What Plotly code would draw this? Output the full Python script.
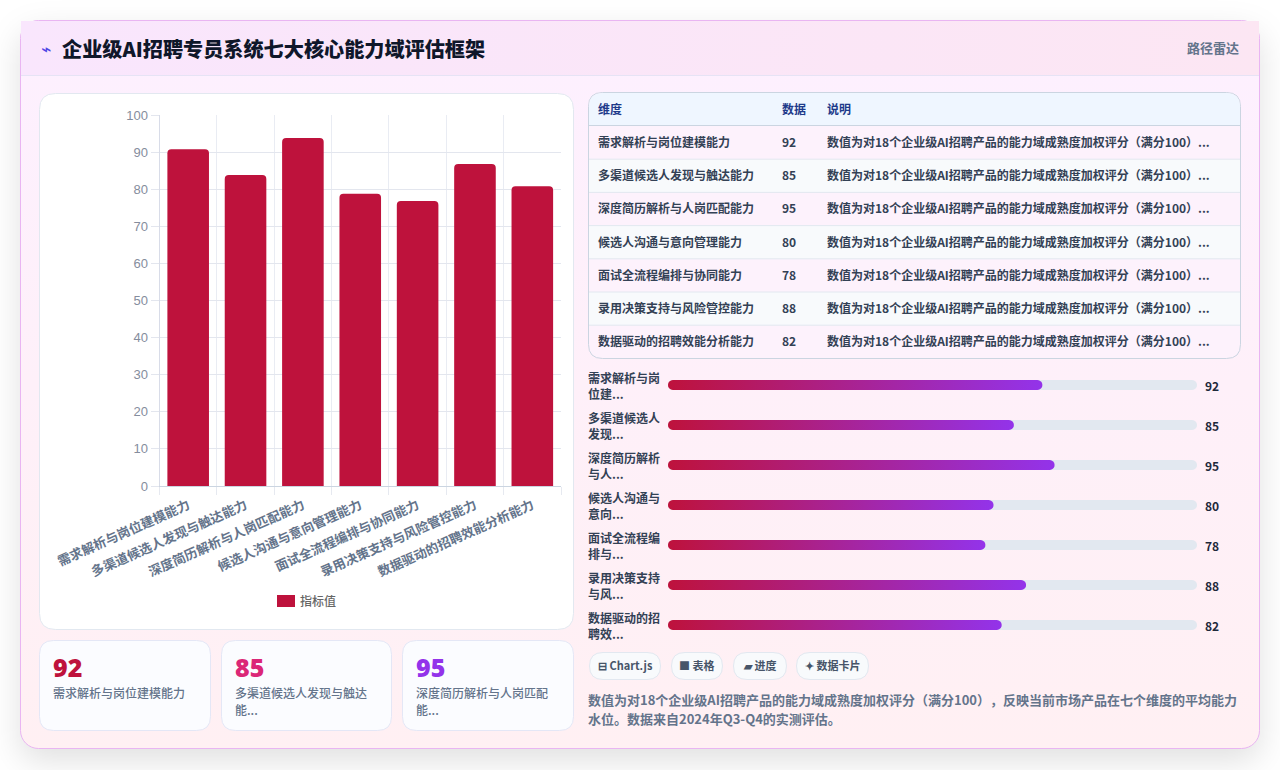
import base64
import numpy as np
import plotly.graph_objects as go

W, H = 1280, 770
CJK = "Noto Sans CJK SC"

# Chart data
domains = ["需求解析与岗位建模能力", "多渠道候选人发现与触达能力", "深度简历解析与人岗匹配能力", "候选人沟通与意向管理能力",
           "面试全流程编排与协同能力", "录用决策支持与风险管控能力", "数据驱动的招聘效能分析能力"]
bar_values = [90.8, 83.8, 93.8, 78.8, 76.8, 86.8, 80.8]
scores = [92, 85, 95, 80, 78, 88, 82]
legend_name = "指标值"
y_ticks = list(range(0, 101, 10))
progress_max = 130

# Page text
title = "企业级AI招聘专员系统七大核心能力域评估框架"
title_icon = "⌁"
view_name = "路径雷达"
table_headers = ["维度", "数据", "说明"]
table_note = "数值为对18个企业级AI招聘产品的能力域成熟度加权评分（满分100）..."
progress_labels = [("需求解析与岗", "位建..."), ("多渠道候选人", "发现..."), ("深度简历解析", "与人..."), ("候选人沟通与", "意向..."),
                   ("面试全流程编", "排与..."), ("录用决策支持", "与风..."), ("数据驱动的招", "聘效...")]
kpi_colors = ["#be123c", "#db2777", "#9333ea"]
kpi_values = [92, 85, 95]
kpi_labels = [("需求解析与岗位建模能力",), ("多渠道候选人发现与触达", "能..."), ("深度简历解析与人岗匹配", "能...")]
chips = [("⊟ Chart.js", 589, 661), ("■ 表格", 671, 723), ("▰ 进度", 733, 787), ("✦ 数据卡片", 796, 869)]
footer = ["数值为对18个企业级AI招聘产品的能力域成熟度加权评分（满分100）\u200b，反映当前市场产品在七个维度的平均能力",
          "水位。数据来自2024年Q3-Q4的实测评估。"]


def px(x):
    return x / W


def py(y):
    return 1 - y / H


def rounded(x0, y0, x1, y1, r):
    """Rounded rectangle as an SVG path in paper coordinates, from pixel corners."""
    p = lambda x, y: f"{px(x):.5f},{py(y):.5f}"
    return (f"M{p(x0 + r, y0)} L{p(x1 - r, y0)} Q{p(x1, y0)} {p(x1, y0 + r)} "
            f"L{p(x1, y1 - r)} Q{p(x1, y1)} {p(x1 - r, y1)} L{p(x0 + r, y1)} "
            f"Q{p(x0, y1)} {p(x0, y1 - r)} L{p(x0, y0 + r)} Q{p(x0, y0)} {p(x0 + r, y0)} Z")


def box(x0, y0, x1, y1, r, fill, line=None, width=1):
    return dict(type="path", xref="paper", yref="paper", path=rounded(x0, y0, x1, y1, r), fillcolor=fill,
                line=dict(color=line or "rgba(0,0,0,0)", width=width if line else 0), layer="below")


def rect(x0, y0, x1, y1, fill):
    return dict(type="rect", xref="paper", yref="paper", x0=px(x0), x1=px(x1), y0=py(y0), y1=py(y1),
                fillcolor=fill, line=dict(width=0), layer="below")


def hline(x0, x1, y, color):
    return dict(type="line", xref="paper", yref="paper", x0=px(x0), x1=px(x1), y0=py(y), y1=py(y),
                line=dict(color=color, width=1), layer="below")


def label(x, y, s, size, color, weight=400, anchor="left", family=CJK):
    return dict(xref="paper", yref="paper", x=px(x), y=py(y), text=s, showarrow=False, xanchor=anchor,
                yanchor="middle", align=anchor, borderpad=0, borderwidth=0,
                font=dict(family=family, size=size, color=color, weight=weight))


# Card backdrop: soft drop shadow, vertical body tint and horizontal header tint
backdrop = f"""<svg xmlns='http://www.w3.org/2000/svg' width='{W}' height='{H}'>
<defs><linearGradient id='g' x1='0' y1='0' x2='0' y2='1'><stop offset='0' stop-color='#fdf0ff'/><stop offset='1' stop-color='#fff0f3'/></linearGradient>
<linearGradient id='h' x1='0' y1='0' x2='1' y2='0'><stop offset='0' stop-color='#f9e6fd'/><stop offset='1' stop-color='#fce6f3'/></linearGradient>
<filter id='s' x='-10%' y='-10%' width='120%' height='125%'><feGaussianBlur stdDeviation='16'/></filter></defs>
<rect x='20' y='32' width='1240' height='729' rx='18' fill='#000' fill-opacity='0.12' filter='url(#s)'/>
<rect x='20.5' y='20.5' width='1239' height='728' rx='18' fill='url(#g)' stroke='#e9b5f2'/>
<rect x='21' y='21' width='1238' height='54' fill='url(#h)'/>
</svg>"""
backdrop_uri = "data:image/svg+xml;base64," + base64.b64encode(backdrop.encode()).decode()

shapes = [hline(21, 1259, 75.5, "#e6e3f5")]
shapes.append(box(39.5, 93.5, 573.5, 629.5, 16, "#ffffff", "#e2e8f0"))
for x0, x1 in [(39.5, 210.5), (221.5, 391.5), (402.5, 573.5)]:
    shapes.append(box(x0, 640.5, x1, 730.5, 14, "#fbfcff", "#e4e7f6"))

# Legend swatch beside its text, below the bars
shapes.append(rect(277, 595, 295, 607, "#be123c"))

# Table frame, header band and striped rows
TABLE_L, TABLE_R = 589, 1241
row_tops = [126 + 33.2 * i for i in range(8)]
shapes.append(box(TABLE_L - .5, 92.5, TABLE_R - .5, 358.5, 14, "#fdf2fc", "#cbd5e1"))
shapes.append(dict(type="path", xref="paper", yref="paper", fillcolor="#eff6ff", layer="below", line=dict(width=0),
                   path=f"M{px(TABLE_L)},{py(125.5)} L{px(TABLE_L)},{py(107)} Q{px(TABLE_L)},{py(93)} {px(TABLE_L + 14)},{py(93)} "
                        f"L{px(TABLE_R - 15)},{py(93)} Q{px(TABLE_R - 1)},{py(93)} {px(TABLE_R - 1)},{py(107)} L{px(TABLE_R - 1)},{py(125.5)} Z"))
for i in range(6):
    if i % 2 == 1:
        shapes.append(rect(TABLE_L, row_tops[i], TABLE_R - 1, row_tops[i + 1], "#f8fafc"))
shapes.append(hline(TABLE_L, TABLE_R - 1, 125.5, "#cbd5e1"))
for i in range(1, 7):
    shapes.append(hline(TABLE_L, TABLE_R - 1, row_tops[i], "#e2e8f0"))

for _, x0, x1 in chips:
    shapes.append(box(x0 + .5, 652.5, x1 - .5, 679.5, 13.5, "#f8fafc", "#e2e8f0"))

annotations = [
    label(41, 49.5, title_icon, 17, "#4f46e5", 700, family="DejaVu Sans"),
    label(62, 49, title, 20.15, "#0f172a", 800),
    label(1239, 47.5, view_name, 13, "#64748b", 600, "right"),
    label(300, 600, legend_name, 12, "#666666", 500),
]
for x, h in zip([598, 782, 827], table_headers):
    annotations.append(label(x, 108.5, h, 12, "#1e3a8a", 700))
for i, (name, score) in enumerate(zip(domains, scores)):
    y = (row_tops[i] + row_tops[i + 1]) / 2 - 1
    annotations.append(label(598, y, name, 12, "#334155", 600))
    annotations.append(label(782, y, str(score), 12, "#334155", 600))
    annotations.append(label(827, y, table_note, 12, "#334155", 600))
for i, (lines, score) in enumerate(zip(progress_labels, scores)):
    y = 385 + 40 * i
    annotations.append(label(588, y, "<br>".join(lines), 12, "#334155", 600))
    annotations.append(label(1205, y, str(score), 12, "#1e293b", 700))
for x, value, color, lines in zip([53, 235, 416], kpi_values, kpi_colors, kpi_labels):
    annotations.append(label(x, 666.5, str(value), 25, color, 900, family="Noto Sans"))
    for j, line in enumerate(lines):
        annotations.append(label(x, 692.5 + 16.5 * j, line, 12, "#64748b", 500))
for text_, x0, x1 in chips:
    annotations.append(label((x0 + x1) / 2, 665, text_, 11, "#475569", 600, "center"))
for j, line in enumerate(footer):
    annotations.append(label(588, 699.5 + 19 * j, line, 13, "#64748b", 600))


def pill(value, row, half=0.125):
    """Outline of a round-ended bar from 0 to value on the progress axes."""
    rx = 5 * progress_max / 529
    t = np.linspace(-np.pi / 2, np.pi / 2, 13)
    right_x = value - rx + rx * np.cos(t)
    right_y = row + half * np.sin(t)
    left_x = rx - rx * np.cos(t[::-1])
    left_y = row + half * np.sin(t[::-1])
    return np.r_[right_x, left_x, right_x[0]], np.r_[right_y, left_y, right_y[0]]


fig = go.Figure()
fig.add_trace(go.Bar(
    x=domains, y=bar_values, name=legend_name, width=0.725, showlegend=False,
    marker=dict(color="#be123c", cornerradius=4, line=dict(width=0)),
))

# Progress rows share a 0-130 scale; tracks first, gradient fills on top
for row, score in enumerate(scores):
    tx, ty = pill(progress_max, row)
    fig.add_trace(go.Scatter(x=tx, y=ty, xaxis="x2", yaxis="y2", mode="none", fill="toself",
                             fillcolor="#e2e8f0", showlegend=False, hoverinfo="skip"))
    fx, fy = pill(score, row)
    fig.add_trace(go.Scatter(x=fx, y=fy, xaxis="x2", yaxis="y2", mode="none", fill="toself", showlegend=False,
                             hoverinfo="skip",
                             fillgradient=dict(type="horizontal", colorscale=[[0, "#be123c"], [1, "#9333ea"]])))

fig.update_layout(
    width=W, height=H, margin=dict(l=0, r=0, t=0, b=0, pad=0, autoexpand=False), autosize=False,
    paper_bgcolor="#ffffff", plot_bgcolor="rgba(0,0,0,0)", hovermode=False, showlegend=False,
    font=dict(family=CJK),
    images=[dict(source=backdrop_uri, xref="paper", yref="paper", x=0, y=1, sizex=1, sizey=1,
                 sizing="stretch", xanchor="left", yanchor="top", layer="below")],
    shapes=shapes, annotations=annotations,
    xaxis=dict(domain=[px(159.5), px(561)], type="category", tickson="boundaries", tickangle=-24, ticks="outside",
               ticklen=8, tickcolor="#e6e9f0", showgrid=True, gridcolor="#e9ecf3", gridwidth=1,
               showline=True, linecolor="#cbd5e1", linewidth=1, ticklabelstandoff=6,
               tickfont=dict(family=CJK, size=13, color="#64748b", weight=600), fixedrange=True),
    yaxis=dict(domain=[py(486), py(115)], range=[0, 100], tickvals=y_ticks, ticks="outside", ticklen=8,
               tickcolor="#e3e6ee", showgrid=True, gridcolor="#e3e6ee", gridwidth=1, zeroline=False,
               showline=True, linecolor="#d8dce8", linewidth=1,
               tickfont=dict(family="Liberation Sans", size=13, color="#858d9d"), fixedrange=True),
    xaxis2=dict(domain=[px(668), px(1197)], range=[0, progress_max], visible=False, anchor="y2", fixedrange=True),
    yaxis2=dict(domain=[py(645), py(365)], range=[6.5, -0.5], visible=False, anchor="x2", fixedrange=True),
)

fig.write_html("out.html", config=dict(displayModeBar=False, responsive=False))
